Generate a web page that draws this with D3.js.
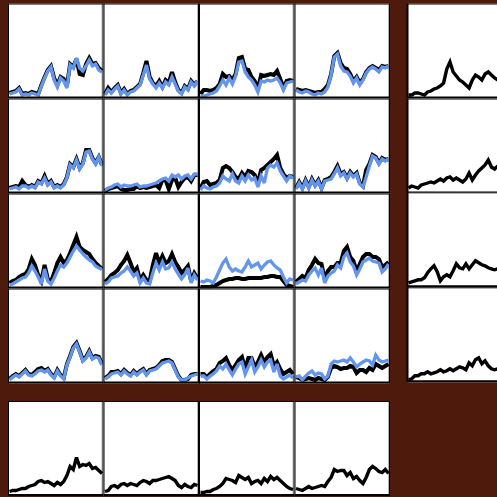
<!DOCTYPE html>
<html>
<head>
<meta charset="utf-8">
<script src="https://cdn.jsdelivr.net/npm/d3@7"></script>
<style>
  html, body { margin: 0; padding: 0; background: #4e1a0b; }
  svg { display: block; }
</style>
</head>
<body>
<script>
// Small-multiples grid: 4x4 panels with paired series (black = reference, blue = model),
// plus a side column and a bottom row with the single black series.

// Heights above the panel baseline, 30 samples per series.
const blackRow1 = [
  [4,5,6,9,3,4,3,5,4,3,12,20,27,31,19,12,20,18,11,33,30,38,23,22,33,39,33,34,29,26],
  [3,9,5,9,12,4,8,3,6,7,10,13,24,36,20,14,11,16,10,17,14,25,15,7,4,11,8,16,12,16],
  [3,7,7,6,7,9,13,23,20,21,17,23,39,40,28,27,20,16,8,22,21,22,23,22,26,18,9,16,17,16],
  [8,7,6,7,6,5,4,5,5,8,12,23,41,44,34,29,28,23,16,20,14,18,25,29,31,29,27,31,30,31]
];
const blueRow1 = [
  [3,4,5,8,2,3,2,4,3,2,11,19,26,30,17,10,19,16,9,32,29,39,29,26,31,37,31,33,27,25],
  [2,7,4,8,11,3,7,2,5,6,9,12,22,32,18,13,9,14,9,15,12,20,13,6,3,10,7,15,11,16],
  [1,1,2,3,4,6,11,17,12,19,13,21,35,36,25,20,17,12,5,16,15,17,16,17,19,14,7,14,15,16],
  [7,5,4,6,5,3,2,4,3,5,10,22,40,43,31,26,25,21,14,19,12,17,24,28,30,28,25,30,29,31]
];
const blackRow2 = [
  [4,5,6,5,11,7,5,7,5,11,9,16,8,11,5,7,5,8,15,28,25,33,24,29,42,42,34,29,35,27],
  [1,3,4,5,6,3,2,2,3,3,6,4,5,4,5,6,7,4,12,12,3,12,14,5,10,14,15,11,17,17],
  [4,10,11,7,8,9,12,24,26,24,20,15,13,19,15,21,20,17,9,22,24,27,30,33,37,24,18,14,16,15],
  [4,10,4,12,5,13,7,12,4,12,13,15,20,26,18,20,14,20,16,19,9,6,22,28,37,35,29,34,32,33]
];
const blueRow2 = [
  [3,4,5,3,6,6,4,6,4,10,8,14,7,10,4,6,4,7,14,27,24,32,23,28,40,41,33,28,35,26],
  [2,4,5,7,8,5,7,6,6,7,8,5,6,6,7,8,9,11,13,14,11,17,15,17,13,16,17,13,18,18],
  [2,6,4,3,5,6,9,16,13,11,18,11,9,16,11,17,12,14,5,16,9,24,27,25,29,21,16,11,16,14],
  [3,9,3,11,4,12,6,11,3,11,12,13,18,24,16,19,13,19,15,18,8,5,15,26,36,34,28,33,31,33]
];
const blackRow3 = [
  [4,6,7,10,12,13,18,28,22,12,6,22,8,5,14,24,30,24,27,34,42,50,40,37,35,33,28,24,21,18],
  [5,8,12,14,17,22,26,32,24,15,19,7,12,7,6,22,34,24,31,24,26,33,25,20,14,17,21,6,14,9],
  [0,0,0,0,1,2,4,6,7,8,8,9,9,8,8,9,9,9,9,9,10,10,11,11,10,10,6,2,1,0],
  [5,8,11,9,17,22,28,24,23,8,16,20,20,24,24,36,40,30,26,16,23,30,33,33,30,30,28,20,22,25]
];
const blueRow3 = [
  [2,3,5,7,9,10,14,21,16,10,3,18,6,3,9,16,22,20,24,30,36,41,37,33,30,27,25,21,19,18],
  [3,5,9,10,11,14,16,20,16,11,14,4,9,4,3,14,24,17,25,18,19,25,18,13,8,12,19,4,12,7],
  [6,5,7,6,4,10,17,24,28,20,16,18,16,15,20,26,20,22,24,18,22,25,26,22,19,17,10,4,8,7],
  [3,5,7,6,12,16,19,12,19,4,11,14,16,22,19,30,34,25,21,12,18,25,27,29,26,25,24,15,18,23]
];
const blackRow4 = [
  [3,6,8,6,9,12,8,7,10,13,14,11,13,8,5,12,7,4,18,26,35,39,31,22,25,31,24,26,25,18],
  [4,6,10,10,11,8,12,9,7,11,8,11,13,8,12,13,14,17,21,22,22,20,13,6,2,2,3,7,8,8],
  [8,8,5,8,11,13,19,21,24,17,12,17,22,25,13,24,24,15,20,27,20,25,28,16,20,13,8,10,12,8],
  [5,4,2,3,4,3,2,4,3,2,5,14,16,15,13,14,14,16,15,9,12,12,10,14,12,18,16,14,16,18]
];
const blueRow4 = [
  [2,5,7,5,8,11,7,6,8,11,12,10,12,7,4,11,6,3,17,25,34,38,30,21,24,30,23,25,24,17],
  [3,5,8,9,10,7,11,8,6,10,7,10,12,7,11,12,13,16,19,20,21,19,12,5,2,2,4,6,7,8],
  [6,6,3,6,8,11,16,13,18,12,7,13,18,20,8,15,22,10,15,22,15,20,22,10,18,6,3,5,7,4],
  [5,6,2,6,9,11,7,9,8,3,6,18,21,20,21,22,20,24,20,15,18,20,22,21,17,27,22,20,21,22]
];
// Side column, one black series per row
const sideSeries = [
  [2,2,4,4,3,2,5,6,8,9,11,14,28,35,25,21,17,15,12,9,17,22,20,17,23,25,22,19,17,18],
  [4,6,5,4,7,8,9,10,9,11,13,11,14,15,12,14,12,10,13,19,12,17,21,24,27,32,25,23,26,25],
  [3,4,5,6,6,8,13,17,20,14,5,9,11,9,15,22,18,17,22,17,21,25,23,21,20,18,17,16,17,16],
  [1,2,5,5,7,7,9,7,8,9,11,9,10,12,10,12,14,13,11,18,15,21,23,17,20,15,12,11,12,13]
];
// Bottom row, one black series per column
const bottomSeries = [
  [3,4,4,5,6,6,8,9,10,13,14,12,13,11,9,12,10,13,19,28,25,37,28,30,29,31,26,27,24,21],
  [3,4,8,9,7,10,11,9,11,10,9,12,14,13,11,14,14,15,16,17,18,16,14,9,7,10,8,7,10,9],
  [2,2,3,3,5,6,8,11,16,15,14,12,19,17,15,17,11,13,14,11,16,13,18,15,17,14,11,8,6,5],
  [6,5,4,6,8,6,7,8,9,8,13,17,25,23,24,24,19,22,16,18,14,11,17,25,28,26,23,22,25,21]
];

const blackRows = [blackRow1, blackRow2, blackRow3, blackRow4];
const blueRows = [blueRow1, blueRow2, blueRow3, blueRow4];

const W = 497, H = 497;
const BG = "#4e1a0b";
const BLUE = "#6495ed";

const svg = d3.select("body").append("svg")
  .attr("width", W).attr("height", H);

svg.append("rect").attr("width", W).attr("height", H).attr("fill", BG);

// Grid geometry
const col = d3.scaleBand().domain([0, 1, 2, 3]).range([8, 390]).padding(0);
const row = d3.scaleBand().domain([0, 1, 2, 3]).range([3.5, 383.5]).padding(0);
const sideX = 407;
const bottomY = 401;

const pw = col.bandwidth();
const ph = row.bandwidth();

const x = d3.scaleLinear().domain([0, 29]).range([1.5, pw - 1.5]);
const y = d3.scaleLinear().domain([0, 95]).range([ph - 1.5, ph - 1.5 - 95]);

const line = d3.line().x((d, i) => x(i)).y(d => y(d));

function panel(px, py, series, opts = {}) {
  const g = svg.append("g").attr("transform", `translate(${px},${py})`);
  g.append("rect")
    .attr("x", 0).attr("y", 0).attr("width", pw).attr("height", ph)
    .attr("fill", "#fff");
  // soft inner edge on the right side of each panel
  g.append("line")
    .attr("x1", pw - 1.5).attr("x2", pw - 1.5).attr("y1", 0).attr("y2", ph)
    .attr("stroke", "#b4b4b4").attr("stroke-width", 1);
  series.forEach(s => {
    g.append("path")
      .attr("d", line(s.values))
      .attr("fill", "none")
      .attr("stroke", s.color)
      .attr("stroke-width", s.width)
      .attr("stroke-linejoin", "miter")
      .attr("stroke-miterlimit", 3)
      .attr("stroke-linecap", "butt");
  });
  // frame
  g.append("line").attr("x1", 0).attr("x2", pw).attr("y1", 0.5).attr("y2", 0.5)
    .attr("stroke", "#000").attr("stroke-width", 1);
  g.append("line").attr("x1", 0.5).attr("x2", 0.5).attr("y1", 0).attr("y2", ph)
    .attr("stroke", "#000").attr("stroke-width", opts.leftWidth || 1);
  g.append("line").attr("x1", pw - 0.5).attr("x2", pw - 0.5).attr("y1", 0).attr("y2", ph)
    .attr("stroke", "#000").attr("stroke-width", 1);
  g.append("line").attr("x1", 0).attr("x2", pw).attr("y1", ph - 1).attr("y2", ph - 1)
    .attr("stroke", "#000").attr("stroke-width", 2);
}

// Main 4x4 grid
for (let r = 0; r < 4; r++) {
  for (let c = 0; c < 4; c++) {
    panel(col(c), row(r), [
      { values: blackRows[r][c], color: "#000", width: 4 },
      { values: blueRows[r][c], color: BLUE, width: 3.3 }
    ]);
  }
}

// Side column
sideSeries.forEach((vals, r) => {
  panel(sideX, row(r) - (r >= 2 ? 1.2 : 0), [{ values: vals, color: "#000", width: 3.4 }], { leftWidth: 2 });
});

// Bottom row
bottomSeries.forEach((vals, c) => {
  panel(col(c), bottomY, [{ values: vals, color: "#000", width: 3.4 }]);
});
</script>
</body>
</html>
